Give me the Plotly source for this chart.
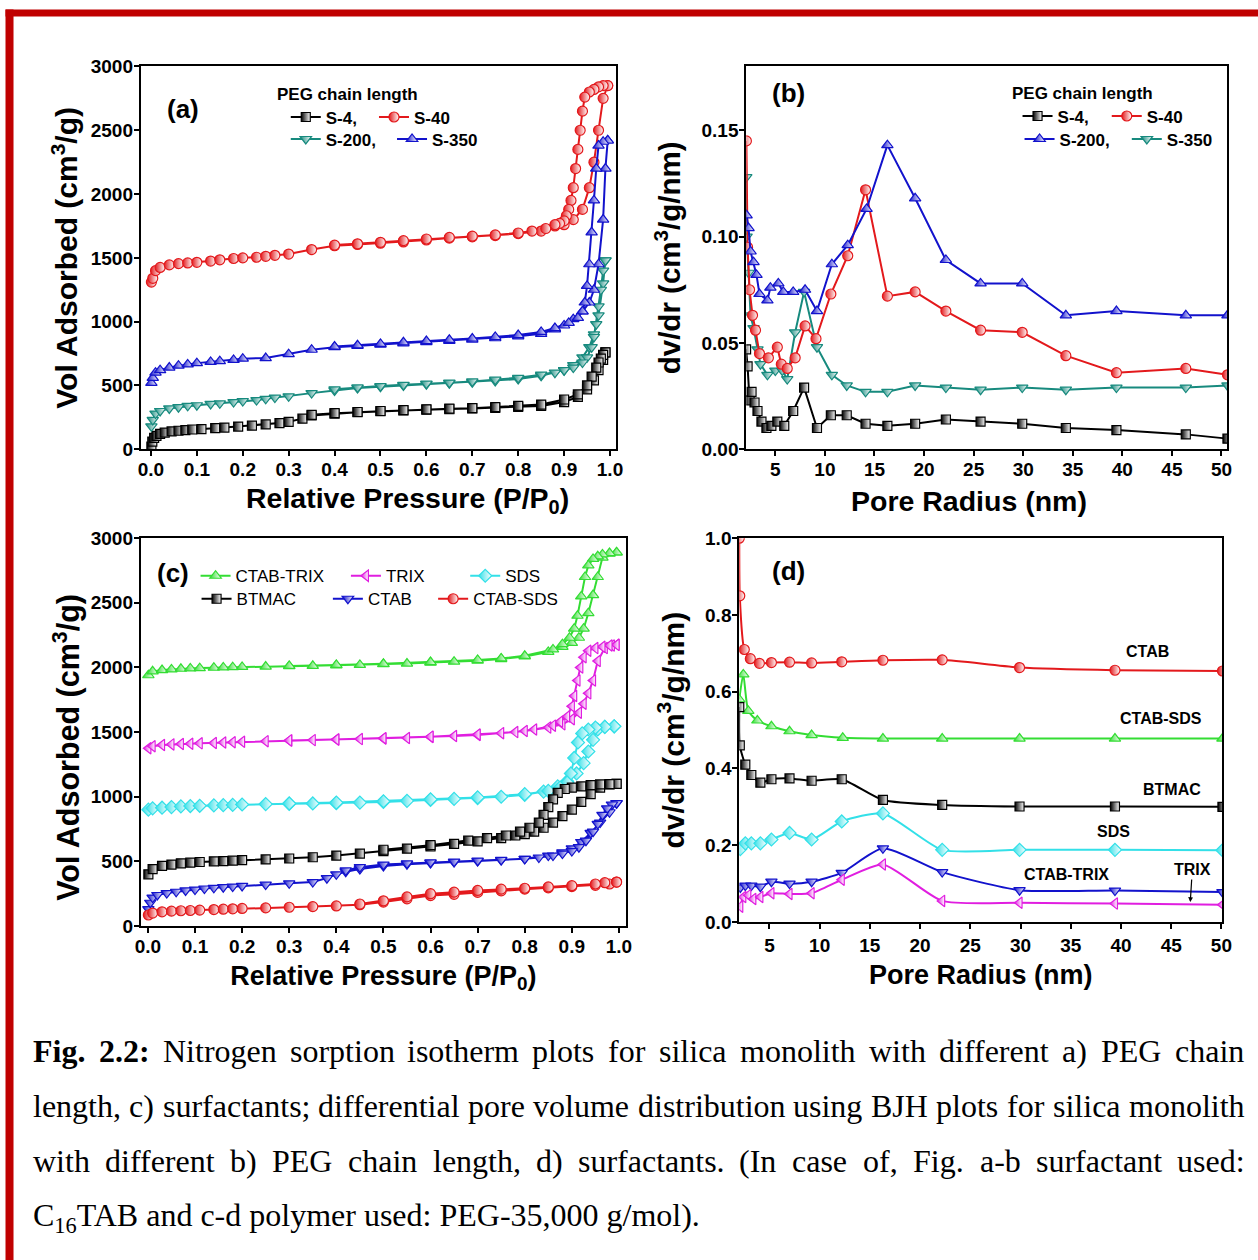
import plotly.graph_objects as go

# Layout positions are given in window pixels of the target picture.  The page
# is photographed with its body margin and a slight down-scale, so each window
# pixel is mapped back to a figure pixel before it is turned into a paper
# fraction.
SCALE_X, SCALE_Y, SHIFT = 0.985, 0.984, 8.5
FW, FH = 1268, 1270
def fx(x): return (x - SHIFT) / SCALE_X
def fy(y): return (y - SHIFT) / SCALE_Y
def PX(x): return fx(x) / FW
def PY(y): return 1 - fy(y) / FH

# ---------------- colours ----------------
BLACK = '#000000'; RED = '#e3191c'; BLUE = '#1212cc'; TEAL = '#178a7e'
GREEN = '#33dd33'; MAGENTA = '#e01ee0'; CYAN = '#33e0e8'

# ---------------- panel (a): isotherms, PEG chain length ----------------
a_s4_ads_p = [0.001, 0.003, 0.007, 0.012, 0.02, 0.03, 0.045, 0.06, 0.075, 0.09, 0.11, 0.14, 0.16, 0.19, 0.22, 0.25, 0.28, 0.3, 0.33, 0.35, 0.4, 0.45, 0.5, 0.55, 0.6, 0.65, 0.7, 0.75, 0.8, 0.85, 0.9, 0.93, 0.95, 0.965, 0.975, 0.985, 0.99]
a_s4_ads_v = [20, 60, 90, 105, 120, 130, 140, 145, 150, 155, 158, 165, 170, 178, 185, 195, 205, 215, 240, 265, 280, 290, 298, 305, 310, 315, 320, 325, 332, 340, 370, 410, 470, 540, 620, 700, 760]
a_s4_des_p = [0.99, 0.985, 0.98, 0.975, 0.97, 0.96, 0.95, 0.93, 0.9, 0.85, 0.8, 0.75, 0.7, 0.65, 0.6, 0.55, 0.5, 0.45, 0.4, 0.35]
a_s4_des_v = [760, 740, 710, 680, 640, 570, 500, 430, 390, 350, 340, 330, 322, 318, 312, 306, 300, 292, 283, 270]

a_s40_ads_p = [0.001, 0.004, 0.01, 0.02, 0.04, 0.06, 0.08, 0.1, 0.13, 0.15, 0.18, 0.2, 0.23, 0.25, 0.27, 0.3, 0.35, 0.4, 0.45, 0.5, 0.55, 0.6, 0.65, 0.7, 0.75, 0.8, 0.85, 0.88, 0.9, 0.92, 0.94, 0.955, 0.965, 0.975, 0.985, 0.995]
a_s40_ads_v = [1310, 1340, 1400, 1425, 1445, 1455, 1460, 1465, 1475, 1485, 1495, 1500, 1505, 1512, 1520, 1530, 1565, 1595, 1605, 1615, 1625, 1640, 1655, 1665, 1675, 1690, 1710, 1750, 1760, 1800, 1880, 2050, 2250, 2500, 2750, 2850]
a_s40_des_p = [0.995, 0.985, 0.975, 0.965, 0.955, 0.945, 0.94, 0.935, 0.93, 0.925, 0.92, 0.915, 0.91, 0.905, 0.9, 0.89, 0.88, 0.86, 0.83, 0.8, 0.75, 0.7, 0.65, 0.6, 0.55, 0.5, 0.45, 0.4]
a_s40_des_v = [2850, 2850, 2840, 2820, 2800, 2760, 2650, 2500, 2350, 2200, 2050, 1950, 1880, 1830, 1790, 1770, 1760, 1730, 1710, 1695, 1680, 1670, 1660, 1648, 1635, 1622, 1610, 1600]

a_s200_ads_p = [0.001, 0.004, 0.01, 0.02, 0.04, 0.06, 0.08, 0.1, 0.13, 0.15, 0.18, 0.2, 0.23, 0.25, 0.27, 0.3, 0.35, 0.4, 0.45, 0.5, 0.55, 0.6, 0.65, 0.7, 0.75, 0.8, 0.85, 0.88, 0.9, 0.92, 0.94, 0.955, 0.965, 0.975, 0.985, 0.99]
a_s200_ads_v = [180, 230, 280, 300, 320, 330, 340, 345, 355, 360, 370, 378, 385, 395, 405, 415, 440, 460, 480, 490, 500, 510, 518, 525, 535, 550, 575, 600, 620, 660, 720, 800, 900, 1050, 1300, 1480]
a_s200_des_p = [0.99, 0.985, 0.98, 0.975, 0.97, 0.965, 0.96, 0.95, 0.94, 0.92, 0.9, 0.85, 0.8, 0.75, 0.7, 0.65, 0.6, 0.55, 0.5, 0.45, 0.4]
a_s200_des_v = [1480, 1400, 1250, 1120, 980, 880, 800, 720, 680, 640, 620, 585, 560, 545, 532, 522, 515, 505, 495, 485, 470]

a_s350_ads_p = [0.001, 0.004, 0.01, 0.02, 0.04, 0.06, 0.08, 0.1, 0.13, 0.15, 0.18, 0.2, 0.25, 0.3, 0.35, 0.4, 0.45, 0.5, 0.55, 0.6, 0.65, 0.7, 0.75, 0.8, 0.85, 0.88, 0.9, 0.92, 0.94, 0.955, 0.965, 0.975, 0.985, 0.99, 0.995]
a_s350_ads_v = [520, 560, 600, 620, 640, 655, 665, 675, 685, 690, 700, 710, 715, 745, 780, 800, 810, 820, 830, 840, 850, 860, 870, 885, 905, 940, 970, 1020, 1080, 1150, 1250, 1450, 1800, 2200, 2420]
a_s350_des_p = [0.995, 0.985, 0.975, 0.97, 0.965, 0.96, 0.955, 0.95, 0.945, 0.94, 0.93, 0.91, 0.88, 0.85, 0.8, 0.75, 0.7, 0.65, 0.6, 0.55, 0.5, 0.45, 0.4]
a_s350_des_v = [2420, 2410, 2380, 2200, 1950, 1700, 1450, 1280, 1150, 1080, 1030, 990, 950, 920, 895, 880, 868, 858, 848, 838, 826, 815, 805]

# ---------------- panel (b): BJH, PEG chain length ----------------
b_s4_r = [2.05, 2.2, 2.4, 2.6, 2.9, 3.2, 3.6, 4.1, 4.6, 5.2, 5.9, 6.8, 7.9, 9.2, 10.6, 12.2, 14.1, 16.3, 19.1, 22.2, 25.7, 29.9, 34.3, 39.4, 46.4, 50.6]
b_s4_v = [0.047, 0.039, 0.023, 0.027, 0.022, 0.018, 0.013, 0.010, 0.011, 0.013, 0.011, 0.018, 0.029, 0.010, 0.016, 0.016, 0.012, 0.011, 0.012, 0.014, 0.013, 0.012, 0.010, 0.009, 0.007, 0.005]
b_s40_r = [2.08, 2.2, 2.4, 2.7, 3.0, 3.4, 4.3, 5.2, 5.6, 6.2, 7.0, 8.0, 9.1, 10.6, 12.3, 14.1, 16.3, 19.1, 22.2, 25.7, 29.9, 34.3, 39.4, 46.4, 50.6]
b_s40_v = [0.145, 0.095, 0.075, 0.063, 0.056, 0.045, 0.043, 0.048, 0.040, 0.038, 0.043, 0.058, 0.052, 0.073, 0.091, 0.122, 0.072, 0.074, 0.065, 0.056, 0.055, 0.044, 0.036, 0.038, 0.035]
b_s200_r = [2.1, 2.3, 2.5, 2.8, 3.1, 3.4, 4.2, 4.5, 5.3, 5.8, 6.8, 8.0, 9.2, 10.7, 12.3, 14.2, 16.3, 19.1, 22.2, 25.7, 29.9, 34.3, 39.4, 46.4, 50.6]
b_s200_v = [0.110, 0.104, 0.093, 0.088, 0.082, 0.073, 0.070, 0.076, 0.078, 0.074, 0.074, 0.075, 0.065, 0.087, 0.096, 0.113, 0.143, 0.118, 0.089, 0.078, 0.078, 0.063, 0.065, 0.063, 0.063]
b_s350_r = [2.07, 2.1, 2.3, 2.5, 2.8, 3.2, 3.5, 4.2, 5.0, 5.7, 6.2, 7.0, 7.9, 9.2, 10.7, 12.2, 14.1, 16.3, 19.1, 22.2, 25.7, 29.9, 34.3, 39.4, 46.4, 50.6]
b_s350_v = [0.128, 0.100, 0.083, 0.063, 0.057, 0.047, 0.040, 0.035, 0.037, 0.037, 0.033, 0.055, 0.074, 0.048, 0.035, 0.030, 0.027, 0.027, 0.030, 0.029, 0.028, 0.029, 0.028, 0.029, 0.029, 0.030]

# ---------------- panel (c): isotherms, surfactants ----------------
c_ctabtrix_ads_p = [0.001, 0.01, 0.03, 0.05, 0.07, 0.09, 0.11, 0.14, 0.16, 0.18, 0.2, 0.25, 0.3, 0.35, 0.4, 0.45, 0.5, 0.55, 0.6, 0.65, 0.7, 0.75, 0.8, 0.85, 0.88, 0.9, 0.915, 0.925, 0.935, 0.945, 0.955, 0.965, 0.98, 0.995]
c_ctabtrix_ads_v = [1940, 1970, 1980, 1985, 1990, 1993, 1995, 1998, 2000, 2002, 2004, 2007, 2010, 2013, 2017, 2020, 2025, 2030, 2038, 2045, 2052, 2065, 2085, 2120, 2160, 2190, 2230, 2300, 2420, 2560, 2700, 2850, 2880, 2890]
c_ctabtrix_des_p = [0.995, 0.98, 0.965, 0.955, 0.945, 0.935, 0.928, 0.92, 0.912, 0.905, 0.895, 0.88, 0.86, 0.8, 0.75, 0.7, 0.6, 0.5, 0.4, 0.3]
c_ctabtrix_des_v = [2890, 2885, 2875, 2860, 2840, 2790, 2700, 2550, 2400, 2300, 2230, 2180, 2140, 2090, 2070, 2058, 2042, 2028, 2020, 2012]

c_trix_ads_p = [0.001, 0.01, 0.03, 0.05, 0.07, 0.09, 0.11, 0.14, 0.16, 0.18, 0.2, 0.25, 0.3, 0.35, 0.4, 0.45, 0.5, 0.55, 0.6, 0.65, 0.7, 0.75, 0.8, 0.85, 0.88, 0.9, 0.915, 0.925, 0.935, 0.945, 0.955, 0.97, 0.985, 0.995]
c_trix_ads_v = [1375, 1390, 1400, 1405, 1408, 1410, 1413, 1416, 1420, 1422, 1425, 1430, 1435, 1438, 1442, 1446, 1450, 1455, 1462, 1470, 1478, 1492, 1508, 1535, 1560, 1600, 1650, 1720, 1800, 1900, 2050, 2150, 2170, 2175]
c_trix_des_p = [0.995, 0.98, 0.965, 0.95, 0.935, 0.925, 0.918, 0.912, 0.905, 0.9, 0.89, 0.875, 0.86, 0.82, 0.78, 0.7, 0.6, 0.5, 0.4, 0.3]
c_trix_des_v = [2175, 2170, 2160, 2150, 2130, 2080, 2000, 1900, 1780, 1700, 1620, 1580, 1550, 1520, 1500, 1482, 1465, 1452, 1443, 1436]

c_sds_ads_p = [0.001, 0.01, 0.03, 0.05, 0.07, 0.09, 0.11, 0.14, 0.16, 0.18, 0.2, 0.25, 0.3, 0.35, 0.4, 0.45, 0.5, 0.55, 0.6, 0.65, 0.7, 0.75, 0.8, 0.84, 0.87, 0.89, 0.91, 0.925, 0.935, 0.945, 0.955, 0.97, 0.99]
c_sds_ads_v = [900, 910, 915, 920, 925, 928, 930, 933, 935, 937, 940, 943, 945, 948, 950, 955, 960, 968, 975, 983, 990, 1000, 1015, 1040, 1080, 1120, 1180, 1260, 1350, 1440, 1520, 1540, 1545]
c_sds_des_p = [0.99, 0.97, 0.95, 0.935, 0.922, 0.913, 0.905, 0.898, 0.89, 0.875, 0.85, 0.8, 0.7, 0.6, 0.5, 0.4, 0.3]
c_sds_des_v = [1545, 1540, 1535, 1520, 1490, 1420, 1300, 1180, 1110, 1070, 1045, 1020, 995, 980, 965, 955, 948]

c_btmac_ads_p = [0.001, 0.01, 0.03, 0.05, 0.07, 0.09, 0.11, 0.14, 0.16, 0.18, 0.2, 0.25, 0.3, 0.35, 0.4, 0.45, 0.5, 0.55, 0.6, 0.65, 0.7, 0.75, 0.78, 0.8, 0.82, 0.84, 0.86, 0.88, 0.9, 0.92, 0.94, 0.96, 0.98, 0.995]
c_btmac_ads_v = [400, 440, 465, 475, 485, 490, 495, 500, 502, 505, 510, 515, 522, 532, 545, 560, 580, 598, 615, 635, 655, 680, 700, 710, 730, 760, 800, 850, 900, 960, 1020, 1070, 1095, 1100]
c_btmac_des_p = [0.995, 0.98, 0.96, 0.94, 0.92, 0.9, 0.885, 0.87, 0.86, 0.85, 0.84, 0.83, 0.81, 0.79, 0.76, 0.72, 0.68, 0.6, 0.5]
c_btmac_des_v = [1100, 1098, 1095, 1090, 1080, 1070, 1060, 1030, 980, 920, 860, 800, 760, 730, 700, 680, 660, 625, 590]

c_ctab_ads_p = [0.001, 0.005, 0.01, 0.02, 0.04, 0.06, 0.08, 0.1, 0.12, 0.14, 0.16, 0.18, 0.2, 0.25, 0.3, 0.35, 0.38, 0.4, 0.42, 0.45, 0.5, 0.55, 0.6, 0.65, 0.7, 0.75, 0.8, 0.85, 0.88, 0.9, 0.92, 0.94, 0.96, 0.98, 0.995]
c_ctab_ads_v = [130, 180, 220, 240, 255, 265, 275, 282, 290, 295, 300, 305, 310, 320, 330, 340, 370, 400, 420, 440, 465, 478, 488, 495, 502, 510, 520, 545, 570, 600, 650, 720, 800, 880, 950]
c_ctab_des_p = [0.995, 0.985, 0.975, 0.965, 0.955, 0.945, 0.93, 0.915, 0.9, 0.88, 0.86, 0.83, 0.8, 0.75, 0.7, 0.65, 0.6, 0.55, 0.5, 0.45, 0.42]
c_ctab_des_v = [950, 940, 910, 860, 790, 730, 660, 610, 580, 560, 545, 530, 520, 512, 505, 498, 492, 485, 475, 455, 430]

c_ctabsds_ads_p = [0.001, 0.01, 0.03, 0.05, 0.07, 0.09, 0.11, 0.14, 0.16, 0.18, 0.2, 0.25, 0.3, 0.35, 0.4, 0.45, 0.5, 0.55, 0.6, 0.65, 0.7, 0.75, 0.8, 0.85, 0.9, 0.95, 0.98, 0.995]
c_ctabsds_ads_v = [85, 100, 110, 115, 118, 120, 123, 127, 130, 133, 136, 140, 145, 150, 155, 165, 185, 210, 235, 245, 260, 272, 285, 295, 305, 315, 325, 340]
c_ctabsds_des_p = [0.995, 0.97, 0.95, 0.9, 0.85, 0.8, 0.75, 0.7, 0.65, 0.6, 0.55, 0.5, 0.45]
c_ctabsds_des_v = [340, 335, 325, 312, 302, 292, 285, 275, 262, 250, 225, 195, 170]

# ---------------- panel (d): BJH, surfactants ----------------
d_ctab_r = [2.0, 2.05, 2.5, 3.1, 4.0, 5.2, 7.0, 9.2, 12.2, 16.3, 22.2, 29.9, 39.4, 50.1]
d_ctab_v = [1.0, 0.85, 0.71, 0.686, 0.674, 0.676, 0.677, 0.675, 0.678, 0.682, 0.683, 0.663, 0.656, 0.654]
d_ctabsds_r = [2.0, 2.4, 2.9, 3.8, 5.2, 7.0, 9.2, 12.3, 16.3, 22.2, 29.9, 39.4, 50.1]
d_ctabsds_v = [0.58, 0.645, 0.55, 0.525, 0.51, 0.497, 0.487, 0.48, 0.478, 0.478, 0.478, 0.478, 0.478]
d_btmac_r = [2.0, 2.05, 2.6, 3.2, 4.1, 5.2, 7.0, 9.2, 12.2, 16.3, 22.2, 29.9, 39.4, 50.1]
d_btmac_v = [0.56, 0.46, 0.41, 0.383, 0.363, 0.372, 0.374, 0.368, 0.372, 0.318, 0.305, 0.301, 0.301, 0.300]
d_sds_r = [2.1, 2.6, 3.2, 4.1, 5.2, 7.0, 9.2, 12.2, 16.3, 22.2, 29.9, 39.4, 50.1]
d_sds_v = [0.19, 0.205, 0.205, 0.205, 0.215, 0.232, 0.215, 0.262, 0.283, 0.188, 0.188, 0.188, 0.187]
d_ctabtrix_r = [2.1, 2.6, 3.2, 4.1, 5.2, 7.0, 9.2, 12.2, 16.3, 22.2, 29.9, 39.4, 50.1]
d_ctabtrix_v = [0.09, 0.095, 0.095, 0.092, 0.105, 0.10, 0.105, 0.128, 0.192, 0.13, 0.083, 0.082, 0.078]
d_trix_r = [2.1, 2.4, 2.9, 3.4, 4.1, 5.2, 7.0, 9.2, 12.2, 16.3, 22.2, 29.9, 39.4, 50.1]
d_trix_v = [0.04, 0.065, 0.07, 0.06, 0.065, 0.075, 0.073, 0.075, 0.11, 0.15, 0.055, 0.05, 0.048, 0.045]

# ---------------- tick labels ----------------
p_ticks = [0.0, 0.1, 0.2, 0.3, 0.4, 0.5, 0.6, 0.7, 0.8, 0.9, 1.0]
vol_ticks = [0, 500, 1000, 1500, 2000, 2500, 3000]
r_ticks = [5, 10, 15, 20, 25, 30, 35, 40, 45, 50]
b_y_ticks = [0.00, 0.05, 0.10, 0.15]
d_y_ticks = [0.0, 0.2, 0.4, 0.6, 0.8, 1.0]

# ---------------- figure ----------------
SANS = 'Arial, Liberation Sans, sans-serif'
SERIF = 'Times New Roman, Liberation Serif, serif'
fig = go.Figure()

def add(xs, ys, name, color, symbol, ax, legend=None, shape='linear', size=10):
    # half-filled Origin-style markers: colour on the left fading to white on the right
    fig.add_trace(go.Scatter(
        x=xs, y=ys, name=name, mode='lines+markers',
        xaxis='x' + ax, yaxis='y' + ax,
        line=dict(color=color, width=2, shape=shape, smoothing=0.6 if shape == 'spline' else None),
        marker=dict(symbol=symbol, size=size, color=color,
                    gradient=dict(type='horizontal', color='white'),
                    line=dict(color=color, width=1.2)),
        showlegend=legend is not None, legend=legend if legend else 'legend'))

leg_pos = {}
def leg(id_, text_x, yc, font):
    leg_pos[id_] = (text_x, yc, font)
    return id_

FA = dict(family=SANS, size=17, color='black', weight='bold')
FC = dict(family=SANS, size=17, color='black')

# panel a
add(a_s4_ads_p + a_s4_des_p, a_s4_ads_v + a_s4_des_v, 'S-4,', BLACK, 'square', '', leg('legend', 327, 116, FA), size=9)
add(a_s40_ads_p + a_s40_des_p, a_s40_ads_v + a_s40_des_v, 'S-40', RED, 'circle', '', leg('legend2', 415, 116, FA))
add(a_s200_ads_p + a_s200_des_p, a_s200_ads_v + a_s200_des_v, 'S-200,', TEAL, 'triangle-down', '', leg('legend3', 327, 138, FA))
add(a_s350_ads_p + a_s350_des_p, a_s350_ads_v + a_s350_des_v, 'S-350', BLUE, 'triangle-up', '', leg('legend4', 433, 138, FA))
# panel b
add(b_s4_r, b_s4_v, 'S-4,', BLACK, 'square', '2', leg('legend5', 1057, 115, FA), size=9)
add(b_s350_r, b_s350_v, 'S-350', TEAL, 'triangle-down', '2', leg('legend8', 1166, 138, FA))
add(b_s40_r, b_s40_v, 'S-40', RED, 'circle', '2', leg('legend6', 1146, 115, FA))
add(b_s200_r, b_s200_v, 'S-200,', BLUE, 'triangle-up', '2', leg('legend7', 1059, 138, FA))
# panel c
add(c_ctabtrix_ads_p + c_ctabtrix_des_p, c_ctabtrix_ads_v + c_ctabtrix_des_v, 'CTAB-TRIX', GREEN, 'triangle-up', '3', leg('legend9', 237, 575, FC))
add(c_trix_ads_p + c_trix_des_p, c_trix_ads_v + c_trix_des_v, 'TRIX', MAGENTA, 'triangle-left', '3', leg('legend10', 387, 575, FC))
add(c_sds_ads_p + c_sds_des_p, c_sds_ads_v + c_sds_des_v, 'SDS', CYAN, 'diamond', '3', leg('legend11', 506, 575, FC))
add(c_btmac_ads_p + c_btmac_des_p, c_btmac_ads_v + c_btmac_des_v, 'BTMAC', BLACK, 'square', '3', leg('legend12', 238, 598, FC), size=9)
add(c_ctab_ads_p + c_ctab_des_p, c_ctab_ads_v + c_ctab_des_v, 'CTAB', BLUE, 'triangle-down', '3', leg('legend13', 369, 598, FC))
add(c_ctabsds_ads_p + c_ctabsds_des_p, c_ctabsds_ads_v + c_ctabsds_des_v, 'CTAB-SDS', RED, 'circle', '3', leg('legend14', 474, 598, FC))
# panel d
add(d_ctab_r, d_ctab_v, 'CTAB', RED, 'circle', '4', shape='spline')
add(d_ctabsds_r, d_ctabsds_v, 'CTAB-SDS', GREEN, 'triangle-up', '4', shape='spline')
add(d_btmac_r, d_btmac_v, 'BTMAC', BLACK, 'square', '4', shape='spline', size=9)
add(d_sds_r, d_sds_v, 'SDS', CYAN, 'diamond', '4', shape='spline')
add(d_ctabtrix_r, d_ctabtrix_v, 'CTAB-TRIX', BLUE, 'triangle-down', '4', shape='spline')
add(d_trix_r, d_trix_v, 'TRIX', MAGENTA, 'triangle-left', '4', shape='spline')

LEG_OFF = 40  # figure px between a legend's left edge and its item text
legends = {}
for id_, (tx, yc, font) in leg_pos.items():
    legends[id_] = dict(x=(fx(tx) - LEG_OFF) / FW, y=PY(yc), xanchor='left', yanchor='middle',
                        orientation='h', bgcolor='rgba(0,0,0,0)', borderwidth=0,
                        font=font, itemwidth=30, tracegroupgap=0, itemclick=False)

TICKF = dict(family=SANS, size=19, color='black', weight='bold')
def axis(dom, rng, tickvals, fmt, title, anchor, standoff, tsize, tls):
    return dict(domain=dom, range=rng, tickvals=tickvals, tickformat=fmt, anchor=anchor,
                showline=True, linecolor='black', linewidth=2, mirror=True,
                ticks='outside', ticklen=5, tickwidth=2, tickcolor='black',
                ticklabelstandoff=tls,
                showgrid=False, zeroline=False, tickfont=TICKF,
                title=dict(text=title, standoff=standoff,
                           font=dict(family=SANS, size=tsize, color='black', weight='bold')))

XA = [PX(143), PX(617)]; XB = [PX(747), PX(1227)]
XC = [PX(143), PX(627)]; XD = [PX(740), PX(1222)]
YAB = [PY(448), PY(65)]; YC = [PY(925), PY(537)]; YD = [PY(921), PY(537)]

vol_title = 'Vol Adsorbed (cm<sup>3</sup>/g)'
p_title = 'Relative Pressure (P/P<sub>0</sub>)'
dv_title = 'dv/dr (cm<sup>3</sup>/g/nm)'
r_title = 'Pore Radius (nm)'

layout = dict(
    width=FW, height=FH, margin=dict(l=0, r=0, t=0, b=0),
    paper_bgcolor='white', plot_bgcolor='white',
    # the (a)/(b) x titles and the (c) y title sit off-centre in the original,
    # so they are placed as annotations below
    xaxis=axis(XA, [-0.022, 1.013], p_ticks, '.1f', '', 'y', 2, 28.5, -3),
    yaxis=axis(YAB, [0, 3000], vol_ticks, 'd', vol_title, 'x', 4, 30, -3),
    xaxis2=axis(XB, [2.07, 50.6], r_ticks, 'd', '', 'y2', 6, 28.5, -3),
    yaxis2=axis(YAB, [0, 0.18], b_y_ticks, '.2f', dv_title, 'x2', 12, 29.5, -3),
    xaxis3=axis(XC, [-0.015, 1.015], p_ticks, '.1f', p_title, 'y3', 10, 27, -3),
    yaxis3=axis(YC, [0, 3000], vol_ticks, 'd', '', 'x3', 2, 30.5, -3),
    xaxis4=axis(XD, [2.0, 50.1], r_ticks, 'd', r_title, 'y4', 10, 27, 0),
    yaxis4=axis(YD, [0, 1.0], d_y_ticks, '.1f', dv_title, 'x4', 12, 30, -3),
)
layout.update(legends)
fig.update_layout(**layout)

# ---------------- annotations ----------------
ann = []
def paper_text(text, x, y, font, xanchor='center', yanchor='middle', angle=0):
    ann.append(dict(text=text, x=PX(x), y=PY(y), xref='paper', yref='paper', showarrow=False,
                    xanchor=xanchor, yanchor=yanchor, font=font, textangle=angle))

def title_font(size):
    return dict(family=SANS, size=size, color='black', weight='bold')

paper_text(p_title, 409, 499, title_font(28.5))
paper_text(r_title, 969, 500, title_font(28.5))
paper_text(vol_title, 69, 746, title_font(30.5), angle=-90)

PANEL_F = dict(family=SANS, size=26, color='black', weight='bold')
paper_text('(a)', 185, 108, PANEL_F)
paper_text('(b)', 789, 92, PANEL_F)
paper_text('(c)', 175, 572, PANEL_F)
paper_text('(d)', 789, 570, PANEL_F)
paper_text('PEG chain length', 277, 93, FA, xanchor='left')
paper_text('PEG chain length', 1010, 92, FA, xanchor='left')

DLAB_F = dict(family=SANS, size=16, color='black', weight='bold')
d_labels = ['CTAB', 'CTAB-SDS', 'BTMAC', 'SDS', 'CTAB-TRIX']
d_label_r = [42.6, 44.0, 45.1, 39.3, 34.6]
d_label_v = [0.706, 0.529, 0.344, 0.237, 0.125]
for t, xr, yv in zip(d_labels, d_label_r, d_label_v):
    ann.append(dict(text=t, x=xr, y=yv, xref='x4', yref='y4', showarrow=False, font=DLAB_F))
ann.append(dict(text='TRIX', x=46.9, y=0.052, ax=47.1, ay=0.137, xref='x4', yref='y4',
                axref='x4', ayref='y4', showarrow=True, arrowhead=2, arrowsize=0.8,
                arrowwidth=1.2, arrowcolor='black', font=DLAB_F))

# ---------------- caption (justified, Times metrics, figure px) ----------------
TR = dict(zip('abcdefghijklmnopqrstuvwxyz',
              [444, 500, 444, 500, 444, 333, 500, 500, 278, 278, 500, 278, 778, 500, 500, 500, 500, 333, 389, 278, 500, 500, 722, 500, 500, 444]))
TR.update(dict(zip('ABCDEFGHIJKLMNOPQRSTUVWXYZ',
              [722, 667, 667, 722, 611, 556, 722, 722, 333, 389, 722, 611, 889, 722, 722, 556, 722, 667, 556, 611, 722, 722, 944, 722, 722, 611])))
TR.update({c: 500 for c in '0123456789'})
TR.update({' ': 250, '.': 250, ',': 250, ':': 278, ';': 278, '(': 333, ')': 333, '-': 333, '/': 278})
TB = dict(TR); TB.update({'F': 611, ':': 333})

CAP_SIZE = 32
CAP_F = dict(family=SERIF, size=CAP_SIZE, color='black')
CAP_L, CAP_R = fx(35), fx(1243)
cap_bold = 'Fig. 2.2:'
cap_lines = [
    'Nitrogen sorption isotherm plots for silica monolith with different a) PEG chain',
    'length, c) surfactants; differential pore volume distribution using BJH plots for silica monolith',
    'with different b) PEG chain length, d) surfactants. (In case of, Fig. a-b surfactant used:',
]
cap_last = 'C<sub>16</sub>TAB and c-d polymer used: PEG-35,000 g/mol).'
cap_y = [1050, 1105, 1160, 1217]

def wlen(s, tab):
    return sum(tab.get(ch, 500) for ch in s) * CAP_SIZE / 1000.0

def fig_text(text, xf, y, font):
    ann.append(dict(text=text, x=xf / FW, y=PY(y), xref='paper', yref='paper', showarrow=False,
                    xanchor='left', yanchor='middle', font=font))

for i, line in enumerate(cap_lines):
    words = [(w, False) for w in line.split(' ')]
    if i == 0:
        words = [(w, True) for w in cap_bold.split(' ')] + words
    widths = [wlen(w, TB if b else TR) for w, b in words]
    gap = (CAP_R - CAP_L - sum(widths)) / (len(words) - 1)
    x = CAP_L
    for (w, b), wd in zip(words, widths):
        f = dict(CAP_F, weight='bold') if b else CAP_F
        fig_text(w, x - 2, cap_y[i], f)
        x += wd + gap
fig_text(cap_last, CAP_L - 2, cap_y[3], CAP_F)

fig.update_layout(annotations=ann)

# ---------------- red frame ----------------
RED_FRAME = '#c00000'
fig.update_layout(shapes=[
    dict(type='rect', xref='paper', yref='paper', x0=PX(8), x1=PX(1258), y0=PY(15), y1=PY(8),
         fillcolor=RED_FRAME, line=dict(width=0)),
    dict(type='rect', xref='paper', yref='paper', x0=PX(8), x1=PX(16), y0=PY(1260), y1=PY(8),
         fillcolor=RED_FRAME, line=dict(width=0)),
])

fig.write_html('out.html')
